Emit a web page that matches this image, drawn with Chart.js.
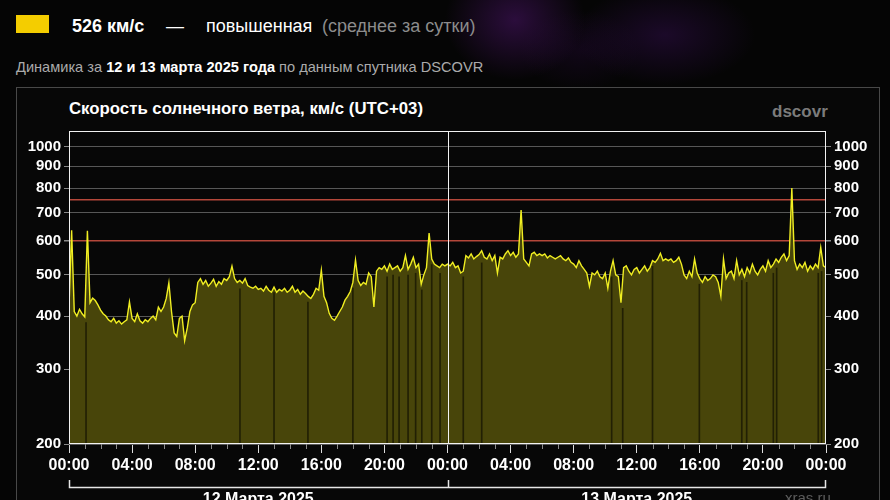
<!DOCTYPE html>
<html lang="ru">
<head>
<meta charset="utf-8">
<script src="https://cdn.jsdelivr.net/npm/chart.js@4.4.1/dist/chart.umd.min.js"></script>
<style>
    body { margin:0; width:890px; height:500px; overflow:hidden; position:relative;
        background:#050505; font-family:"Liberation Sans", Arial, sans-serif; }
    .glow { position:absolute; left:0; top:0; width:890px; height:130px;
        background:
            radial-gradient(ellipse 70px 60px at 515px 20px, rgba(75,20,105,0.55), rgba(0,0,0,0)),
            radial-gradient(ellipse 90px 50px at 665px 35px, rgba(55,15,85,0.45), rgba(0,0,0,0)),
            radial-gradient(ellipse 60px 40px at 580px 50px, rgba(40,10,60,0.35), rgba(0,0,0,0)); }
    .t { position:absolute; white-space:nowrap; line-height:20px; }
    #swatch { position:absolute; left:16px; top:15px; width:33px; height:18px; background:#f4cd00; }
    #panel { position:absolute; left:16px; top:87px; width:864px; height:440px; box-sizing:border-box;
        border:1px solid #484848; background:#070707; }
    canvas { position:absolute; left:0; top:0; }
</style>
</head>
<body>
<div class="glow"></div>
<div id="swatch"></div>
<div class="t" style="left:72px;top:16px;font-size:18px;font-weight:bold;color:#fff">526 км/с</div>
<div class="t" style="left:166px;top:16px;font-size:18px;color:#fff">—</div>
<div class="t" style="left:206px;top:16px;font-size:18px;color:#fff">повышенная</div>
<div class="t" style="left:322px;top:16px;font-size:18px;color:#8c8c8c">(среднее за сутки)</div>
<div class="t" style="left:16px;top:59px;font-size:14.6px;line-height:16px;color:#ababab">Динамика за <b style="color:#fff">12 и 13 марта 2025 года</b> по данным спутника DSCOVR</div>
<div id="panel"></div>
<div class="t" style="left:69px;top:99px;font-size:16.8px;line-height:19px;font-weight:bold;color:#fff">Скорость солнечного ветра, км/с (UTC+03)</div>
<div class="t" style="left:772px;top:102px;font-size:17px;font-weight:bold;color:#7b7b7b">dscovr</div>
<canvas id="wind" width="890" height="500"></canvas>
<script>
// скорость ветра, шаг 10 минут
const speed12 = [
    420, 637, 410, 400, 415, 405,
    398, 635, 430, 441, 435, 425,
    413, 405, 400, 392, 388, 395,
    385, 390, 383, 388, 392, 432,
    395, 388, 405, 390, 385, 392,
    388, 395, 400, 392, 420, 410,
    420, 440, 479, 410, 365, 358,
    395, 400, 350, 375, 410, 425,
    430, 480, 490, 475, 485, 470,
    478, 488, 470, 482, 475, 490,
    485, 495, 524, 490, 480, 485,
    478, 490, 472, 468, 465, 470,
    462, 465, 458, 470, 460, 455,
    468, 455, 462, 458, 465, 455,
    460, 470, 455, 462, 450, 458,
    452, 445, 440, 450, 465, 460,
    513, 445, 430, 406, 395, 391,
    400, 410, 420, 436, 445, 457,
    480, 542, 485, 472, 480, 475,
    505, 495, 420, 510, 520, 515,
    525, 510, 530, 515, 520, 525,
    510, 520, 555, 515, 530, 550,
    520, 530, 475, 500, 520, 627,
    545, 530, 525, 520, 530, 525
]
const speed13 = [
    530, 525, 535, 520, 525, 505,
    510, 555, 548, 560, 545, 552,
    558, 570, 550, 545, 560, 540,
    555, 505, 550, 545, 560, 570,
    555, 565, 550, 560, 710, 545,
    535, 525, 560, 565, 555, 560,
    555, 560, 548, 555, 550, 545,
    550, 555, 545, 540, 548, 535,
    530, 520, 540, 525, 515, 505,
    470, 505, 500, 510, 495, 490,
    505, 465, 510, 540, 500, 495,
    430, 520, 525, 510, 500, 515,
    520, 505, 515, 525, 510, 520,
    540, 535, 545, 562, 540, 545,
    540, 545, 535, 540, 550, 530,
    500, 490, 510, 495, 545, 505,
    490, 480, 495, 485, 490, 500,
    495, 480, 445, 545, 490, 505,
    510, 490, 540, 500, 515, 495,
    520, 505, 530, 510, 500, 515,
    525, 510, 540, 520, 530, 545,
    535, 550, 560, 540, 555, 800,
    540, 515, 530, 520, 535, 510,
    525, 515, 530, 520, 580, 525,
    520
]
// пропуски данных (часы от начала 12 марта)
const gapHours = [1.08, 10.84, 13.0, 15.15, 18.0, 20.17, 20.55, 20.93, 21.5, 21.98, 22.37, 23.0, 23.53,
    25.0, 26.17, 34.41, 35.11, 37.0, 39.97, 42.66, 42.97, 44.66, 44.87, 47.51, 47.72]
const yTicks = [200, 300, 400, 500, 600, 700, 800, 900, 1000]
const alertLevels = [600, 750]
const dayLabels = ['12 Марта 2025', '13 Марта 2025']

const F = '"Liberation Sans", Arial, sans-serif'
const speed = speed12.concat(speed13)
const points = speed.map((v, i) => ({x: i / 6, y: v}))
const gaps = gapHours.map(h => {
    const a = speed[Math.floor(h * 6)], b = speed[Math.ceil(h * 6)]
    return {x: h, y: Math.min(a, b) * 0.97}
})
const gridValues = yTicks.concat(alertLevels).filter((v, i, arr) => arr.indexOf(v) == i).sort((a, b) => a - b)

const decor = {
    id: 'decor',
    afterDatasetsDraw(chart) {
        const {ctx, chartArea: a, scales: {x}} = chart
        ctx.save()
        ctx.strokeStyle = '#f2f2f2'
        ctx.lineWidth = 1
        const mx = Math.round(x.getPixelForValue(24)) + 0.5
        ctx.beginPath()
        ctx.moveTo(mx, a.top)
        ctx.lineTo(mx, a.bottom)
        ctx.stroke()
        ctx.strokeRect(a.left + 0.5, a.top + 0.5, a.right - a.left - 1, a.bottom - a.top - 1)
        ctx.restore()
    },
    afterDraw(chart) {
        const {ctx, chartArea: a, scales: {x}} = chart
        ctx.save()
        // часовые засечки
        ctx.strokeStyle = '#8a8a8a'
        ctx.lineWidth = 1
        for (let h = 0; h <= 48; h++) {
            if (h % 4 == 0) continue
            const px = Math.round(x.getPixelForValue(h)) + 0.5
            ctx.beginPath()
            ctx.moveTo(px, a.bottom)
            ctx.lineTo(px, a.bottom + 5)
            ctx.stroke()
        }
        // скобка под датами
        const x0 = Math.round(x.getPixelForValue(0)) + 0.5
        const x1 = Math.round(x.getPixelForValue(48)) - 0.5
        const xm = Math.round(x.getPixelForValue(24)) + 0.5
        ctx.strokeStyle = '#e6e6e6'
        ctx.lineWidth = 1.5
        ctx.beginPath()
        ctx.moveTo(x0, 480); ctx.lineTo(x0, 487.5); ctx.lineTo(x1, 487.5); ctx.lineTo(x1, 480)
        ctx.moveTo(xm, 480); ctx.lineTo(xm, 487.5)
        ctx.stroke()
        ctx.fillStyle = '#fff'
        ctx.font = 'bold 16px ' + F
        ctx.textAlign = 'center'
        ctx.textBaseline = 'alphabetic'
        dayLabels.forEach((d, i) => ctx.fillText(d, x.getPixelForValue(12 + 24 * i), 503.5))
        ctx.fillStyle = '#5c5c5c'
        ctx.font = '15px ' + F
        ctx.textAlign = 'left'
        ctx.fillText('xras.ru', 785, 503)
        ctx.restore()
    }
}

const yAxis = (pos, width) => ({
    type: 'logarithmic',
    position: pos,
    min: 200,
    max: 1090,
    bounds: 'data',
    afterBuildTicks: s => { s.ticks = gridValues.map(v => ({value: v})) },
    afterFit: s => { s.width = width },
    border: {display: false},
    ticks: {
        autoSkip: false,
        padding: 3,
        color: '#fff',
        font: {family: F, size: 15, weight: 'bold'},
        callback: v => yTicks.includes(v) ? String(v) : ''
    },
    grid: {
        drawOnChartArea: pos == 'left',
        tickLength: 5,
        color: c => c.tick && alertLevels.includes(c.tick.value) ? '#b4473a' : '#575757',
        lineWidth: c => c.tick && alertLevels.includes(c.tick.value) ? 1.5 : 1,
        tickColor: c => c.tick && yTicks.includes(c.tick.value) ? '#8a8a8a' : 'rgba(0,0,0,0)'
    }
})

new Chart('wind', {
    data: {
        datasets: [{
            type: 'line',
            data: points,
            borderColor: '#f0ee22',
            borderWidth: 1.4,
            backgroundColor: '#48450a',
            fill: 'start',
            pointRadius: 0,
            tension: 0,
            order: 1
        }, {
            type: 'bar',
            data: gaps,
            backgroundColor: '#222004',
            barThickness: 1,
            order: 0
        }]
    },
    options: {
        responsive: false,
        animation: false,
        devicePixelRatio: 1,
        layout: {padding: {top: 131, left: 0, right: 0, bottom: 0}},
        plugins: {legend: {display: false}, tooltip: {enabled: false}},
        scales: {
            x: {
                type: 'linear',
                min: 0,
                max: 48,
                offset: false,
                bounds: 'data',
                afterFit: s => { s.height = 56 },
                border: {display: false},
                ticks: {
                    stepSize: 4,
                    autoSkip: false,
                    maxRotation: 0,
                    padding: 3,
                    color: '#fff',
                    font: {family: F, size: 16, weight: 'bold'},
                    callback: v => String(v % 24).padStart(2, '0') + ':00'
                },
                grid: {offset: false, drawOnChartArea: false, tickLength: 9, color: '#dcdcdc'}
            },
            y: yAxis('left', 69),
            y2: yAxis('right', 64)
        }
    },
    plugins: [decor]
})
</script>
</body>
</html>
